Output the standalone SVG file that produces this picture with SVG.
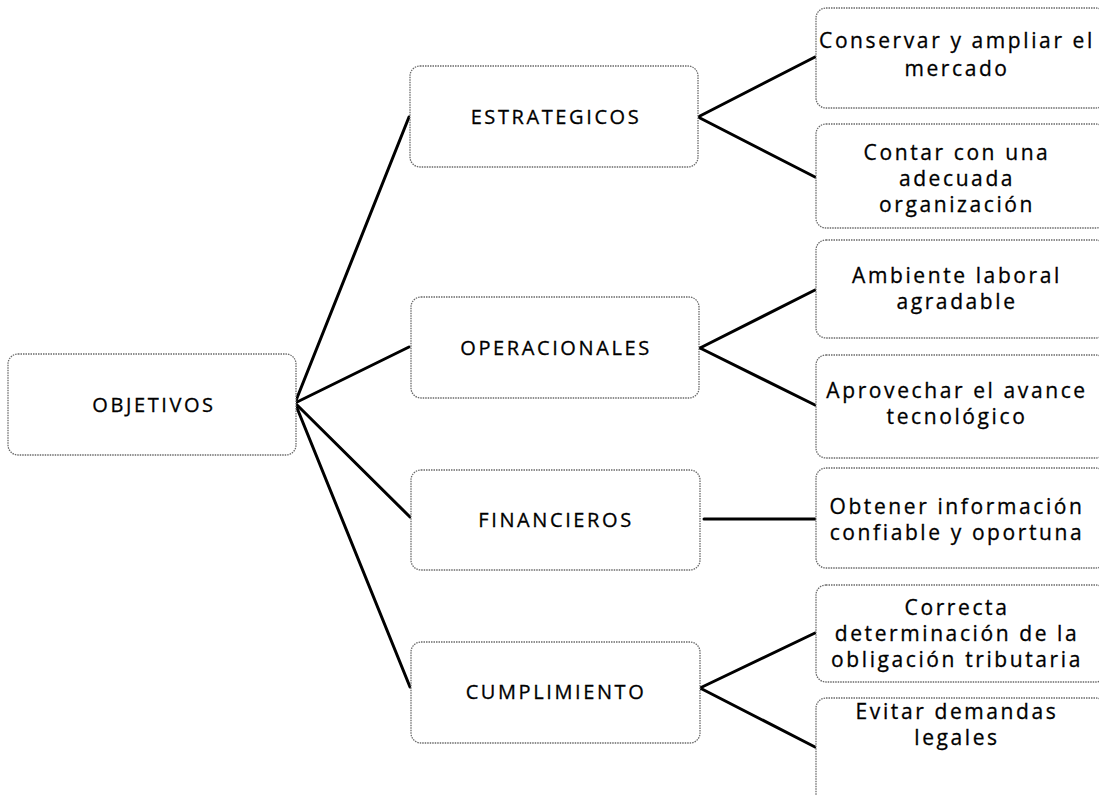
<svg xmlns="http://www.w3.org/2000/svg" width="1099" height="795" viewBox="0 0 1099 795">
<style>
.box{fill:#fff;stroke:#6a6a6a;stroke-width:1.3;stroke-dasharray:1.5 1}
.t{font-family:"Open Sans","Liberation Sans",sans-serif;fill:#000;text-anchor:middle;stroke:#000;stroke-width:0.3}
.m{font-size:20px;letter-spacing:2.6px}
.r{font-size:21px;letter-spacing:2.6px}
.c{stroke:#000;stroke-width:3;fill:none;stroke-linecap:round}
</style>
<rect width="1099" height="795" fill="#fff"/>
<g id="connectors">
<line class="c" x1="295" y1="403" x2="409" y2="117"/>
<line class="c" x1="295" y1="403" x2="409" y2="347"/>
<line class="c" x1="295" y1="403" x2="410" y2="517"/>
<line class="c" x1="295" y1="403" x2="410" y2="687"/>
<line class="c" x1="698" y1="117" x2="815" y2="57"/>
<line class="c" x1="698" y1="117" x2="815" y2="177"/>
<line class="c" x1="700" y1="348" x2="815" y2="290"/>
<line class="c" x1="700" y1="348" x2="815" y2="405"/>
<line class="c" x1="704" y1="519" x2="815" y2="519"/>
<line class="c" x1="700" y1="688" x2="815" y2="633"/>
<line class="c" x1="700" y1="688" x2="815" y2="747"/>
</g>
<g id="objetivos">
<rect class="box" x="8" y="354" width="288" height="101" rx="10"/>
<text class="t m" x="154" y="412">OBJETIVOS</text>
</g>
<g id="estrategicos">
<rect class="box" x="410" y="66" width="288" height="101" rx="10"/>
<text class="t m" x="556" y="124">ESTRATEGICOS</text>
</g>
<g id="operacionales">
<rect class="box" x="411" y="297" width="288" height="101" rx="10"/>
<text class="t m" x="556" y="355">OPERACIONALES</text>
</g>
<g id="financieros">
<rect class="box" x="411" y="470" width="289" height="100" rx="10"/>
<text class="t m" x="556" y="527">FINANCIEROS</text>
</g>
<g id="cumplimiento">
<rect class="box" x="411" y="642" width="289" height="101" rx="10"/>
<text class="t m" x="556" y="699">CUMPLIMIENTO</text>
</g>
<g id="conservar">
<rect class="box" x="816" y="8" width="290" height="100" rx="10"/>
<text class="t r" x="957" y="48">Conservar y ampliar el</text>
<text class="t r" x="957" y="76">mercado</text>
</g>
<g id="contar">
<rect class="box" x="816" y="124" width="290" height="104" rx="10"/>
<text class="t r" x="957" y="160">Contar con  una</text>
<text class="t r" x="957" y="186">adecuada</text>
<text class="t r" x="957" y="212">organización</text>
</g>
<g id="ambiente">
<rect class="box" x="816" y="240" width="290" height="98" rx="10"/>
<text class="t r" x="957" y="283">Ambiente laboral</text>
<text class="t r" x="957" y="309">agradable</text>
</g>
<g id="aprovechar">
<rect class="box" x="816" y="355" width="290" height="103" rx="10"/>
<text class="t r" x="957" y="398">Aprovechar el avance</text>
<text class="t r" x="957" y="424">tecnológico</text>
</g>
<g id="obtener">
<rect class="box" x="816" y="468" width="290" height="100" rx="10"/>
<text class="t r" x="957" y="514">Obtener información</text>
<text class="t r" x="957" y="540">confiable y oportuna</text>
</g>
<g id="correcta">
<rect class="box" x="816" y="585" width="290" height="97" rx="10"/>
<text class="t r" x="957" y="615">Correcta</text>
<text class="t r" x="957" y="641">determinación de la</text>
<text class="t r" x="957" y="667">obligación tributaria</text>
</g>
<g id="evitar">
<rect class="box" x="816" y="698" width="290" height="110" rx="10"/>
<text class="t r" x="957" y="719">Evitar demandas</text>
<text class="t r" x="957" y="745">legales</text>
</g>
</svg>
